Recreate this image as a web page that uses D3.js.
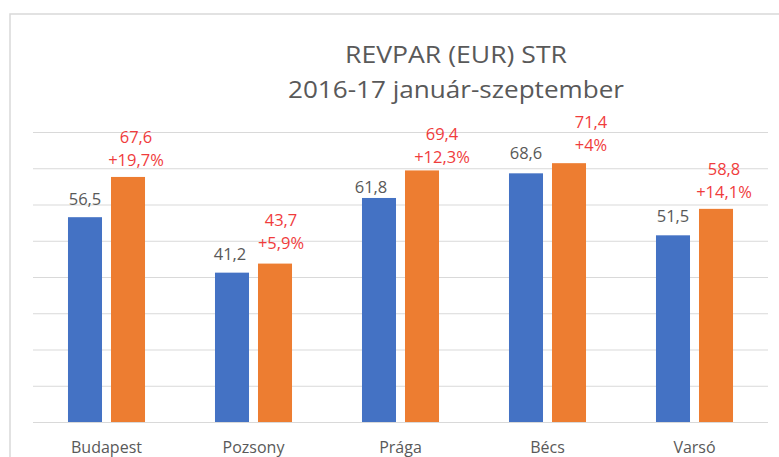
<!DOCTYPE html>
<html><head><meta charset="utf-8">
<script src="https://cdn.jsdelivr.net/npm/d3@7"></script>
<style>body{margin:0;background:#fff}svg{display:block}</style>
</head><body>
<script>
const categories = ["Budapest","Pozsony","Prága","Bécs","Varsó"];
const values2016 = [56.5, 41.2, 61.8, 68.6, 51.5];
const values2017 = [67.6, 43.7, 69.4, 71.4, 58.8];
const changeLabels = ["+19,7%","+5,9%","+12,3%","+4%","+14,1%"];
const gridTicks = [0,10,20,30,40,50,60,70,80];
const titleLines = ["REVPAR (EUR) STR","2016-17 január-szeptember"];

const W = 779, H = 457;
// manual label nudges seen in the reference (pixels)
const nudge2016 = [[0,0],[-2,-1],[-8,7],[0,-2],[0,-1]];
const nudge2017 = [[8,0],[6,-4],[20,4],[22,-1],[8,0]];

const svg = d3.select("body").append("svg").attr("width", W).attr("height", H);
const font = "'Open Sans', 'Liberation Sans', sans-serif";

// frame
svg.append("path").attr("d", `M10,${H} L10,14 L${W},14`).attr("fill","none")
  .attr("stroke","#d9d9d9").attr("stroke-width",1.5);

const y = d3.scaleLinear().domain([0,80]).range([422,132]);
const x0 = d3.scaleBand().domain(categories).range([33,768]).paddingInner(0.476).paddingOuter(0.238);
const x1 = d3.scaleBand().domain([0,1]).range([0,x0.bandwidth()]).paddingInner(0.209);

// gridlines
const yAxis = d3.axisLeft(y).tickValues(gridTicks).tickSize(-(768-33)).tickFormat("");
const g = svg.append("g").attr("transform","translate(33,0)").call(yAxis);
g.select(".domain").remove();
g.selectAll(".tick line").attr("stroke","#d9d9d9").attr("stroke-width",1);

const fmt = v => String(v).replace(".", ",");

const groups = svg.selectAll(".grp").data(categories).join("g")
  .attr("transform", d => `translate(${x0(d)},0)`);

groups.append("rect").attr("x", x1(0)).attr("width", x1.bandwidth())
  .attr("y", (d,i) => y(values2016[i])).attr("height", (d,i) => y(0)-y(values2016[i]))
  .attr("fill","#4472C4");
groups.append("rect").attr("x", x1(1)).attr("width", x1.bandwidth())
  .attr("y", (d,i) => y(values2017[i])).attr("height", (d,i) => y(0)-y(values2017[i]))
  .attr("fill","#ED7D31");

groups.append("text").attr("x", (d,i)=>x1(0)+x1.bandwidth()/2+nudge2016[i][0])
  .attr("y",(d,i)=>y(values2016[i])-12+nudge2016[i][1])
  .attr("text-anchor","middle").attr("font-family",font).attr("font-size",16.5).attr("fill","#595959")
  .text((d,i)=>fmt(values2016[i]));
groups.append("text").attr("x", (d,i)=>x1(1)+x1.bandwidth()/2+nudge2017[i][0])
  .attr("y",(d,i)=>y(values2017[i])-34+nudge2017[i][1])
  .attr("text-anchor","middle").attr("font-family",font).attr("font-size",16.5).attr("fill","#f03c3c")
  .text((d,i)=>fmt(values2017[i]));
groups.append("text").attr("x", (d,i)=>x1(1)+x1.bandwidth()/2+nudge2017[i][0])
  .attr("y",(d,i)=>y(values2017[i])-11+nudge2017[i][1])
  .attr("text-anchor","middle").attr("font-family",font).attr("font-size",16.5).attr("fill","#f03c3c")
  .text((d,i)=>changeLabels[i]);

// x labels
const xAxis = d3.axisBottom(x0).tickSize(0).tickPadding(0);
const xa = svg.append("g").attr("transform","translate(0,422)").call(xAxis);
xa.select(".domain").remove();
xa.selectAll("text").attr("y",31).attr("dy",0).attr("font-family",font).attr("font-size",16).attr("fill","#595959");

// title
const titleWidths = [222, 336];
svg.selectAll(".title").data(titleLines).join("text")
  .attr("x",456).attr("y",(d,i)=>[63,98][i]).attr("text-anchor","middle")
  .attr("font-family",font).attr("font-size",23).attr("fill","#595959")
  .attr("textLength",(d,i)=>titleWidths[i]).attr("lengthAdjust","spacingAndGlyphs").text(d=>d);
</script>
</body></html>
